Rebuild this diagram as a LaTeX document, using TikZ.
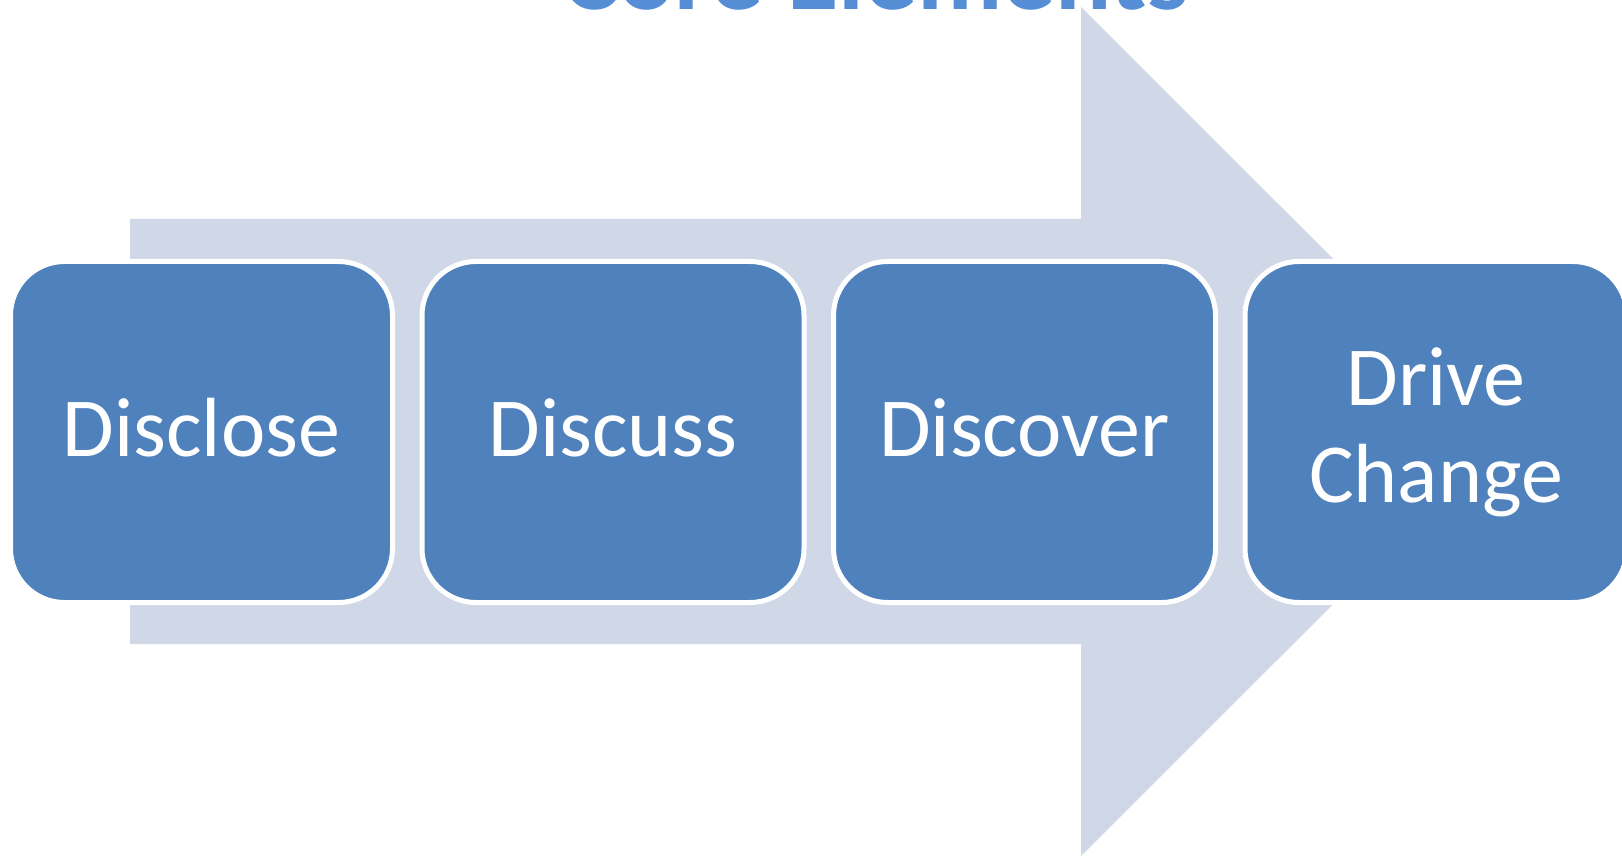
\documentclass[tikz,border=0pt]{standalone}
\usepackage{fontspec}
\setmainfont{Carlito}
\definecolor{boxblue}{HTML}{4F81BD}
\definecolor{arrowgray}{HTML}{D0D8E8}
\definecolor{titleblue}{HTML}{558ED5}
\tikzset{
  stage/.style={rectangle, rounded corners=54pt, fill=boxblue, draw=white, line width=5pt,
    minimum width=382pt, minimum height=341pt, inner sep=0pt, text=white, align=center,
    font=\fontsize{84}{95}\selectfont},
  label/.style={text=white, align=center, inner sep=0pt, font=\fontsize{84}{95}\selectfont},
  bigarrow/.style={fill=arrowgray, draw=none}
}
\begin{document}
\begin{tikzpicture}[x=1pt,y=-1pt]
\clip (0,0) rectangle (1622,858);
\fill[white] (0,0) rectangle (1622,858);
\node[anchor=base, text=titleblue, font=\fontsize{105}{120}\selectfont\bfseries, inner sep=0pt] (title) at (876,10) {Core Elements};
\fill[bigarrow] (130,219) -- (1081,219) -- (1081,7) -- (1506,431.5) -- (1081,856) -- (1081,644) -- (130,644) -- cycle;
\node[stage] (s1) at (201.5,432) {};
\node[stage] (s2) at (613,432) {};
\node[stage] (s3) at (1024.5,432) {};
\node[stage] (s4) at (1436,432) {};
\node[label, anchor=base] (t1) at (s1.center |- 0,456) {Disclose};
\node[label, anchor=base] (t2) at (s2.center |- 0,456) {Discuss};
\node[label, anchor=base] (t3) at (s3.center |- 0,456) {Discover};
\node[label, anchor=base] (t4a) at (s4.center |- 0,406) {Drive};
\node[label, anchor=base] (t4b) at (s4.center |- 0,502) {Change};
\end{tikzpicture}
\end{document}
